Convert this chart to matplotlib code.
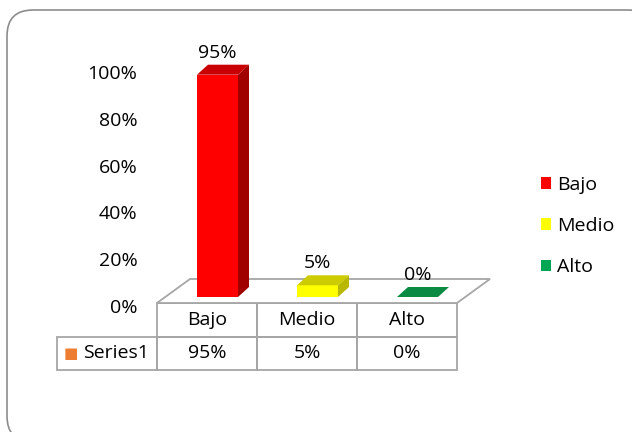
import matplotlib
matplotlib.use("Agg")
import numpy as np
import matplotlib.pyplot as plt
from matplotlib.patches import Polygon, Patch, FancyBboxPatch

plt.rcParams['font.family'] = ['Open Sans', 'DejaVu Sans']
plt.rcParams['font.size'] = 14

# datos
categorias = ['Bajo', 'Medio', 'Alto']
valores = [0.95, 0.05, 0.0]
etiquetas = ['95%', '5%', '0%']
serie = 'Series1'
yticks = [0, 0.2, 0.4, 0.6, 0.8, 1.0]

# colores (frente, lado, tapa)
frente = ['#FF0000', '#FFFF00', '#00A651']
lado = ['#A00000', '#B8B800', '#007A3A']
tapa = ['#C80000', '#CCCC00', '#0B8A43']
gris = '#A6A6A6'

W, H = 632, 432
fig = plt.figure(figsize=(W / 100, H / 100), dpi=100)

# marco redondeado (en pulgadas)
marco = FancyBboxPatch((0.07, -0.10), 6.47, 4.32,
                       boxstyle='round,pad=0,rounding_size=0.26',
                       transform=fig.dpi_scale_trans, fc='white', ec='#8C8C8C', lw=1.2,
                       zorder=-5)
fig.patches.append(marco)

# ejes en pixeles: x 157..500, y 306 (0) .. 40
x0, x1 = 157, 500
yb, yt = 306, 40
ax = fig.add_axes([x0 / W, (H - yb) / H, (x1 - x0) / W, (yb - yt) / H])
ax.set_facecolor('none')
ax.set_xlim(-0.5, -0.5 + (x1 - x0) / 100)
ax.set_ylim(0, (yb - yt) / 234)
for s in ax.spines.values():
    s.set_visible(False)
ax.set_xticks([])
ax.set_yticks(yticks)
ax.set_yticklabels([f'{int(t * 100)}%' for t in yticks])
ax.tick_params(axis='y', length=0, pad=14)

# piso en perspectiva
fy = 3 / 234
fdx, fdy = 0.33, 24 / 234
n = len(categorias)
piso = Polygon([(-0.5, fy), (-0.5 + fdx, fy + fdy), (n - 0.5 + fdx, fy + fdy), (n - 0.5, fy)],
               closed=True, fc='white', ec=gris, lw=1.3, zorder=1)
ax.add_patch(piso)

# barras 3d
x = np.arange(n)
ancho = 0.41
desp = 0.105
base = 9 / 234
ddx, ddy = 0.11, 10 / 234
barras = ax.bar(x + desp, valores, width=ancho, bottom=base, color=frente, zorder=3)
for i, b in enumerate(barras):
    xl = b.get_x()
    xr = xl + b.get_width()
    yt_ = base + valores[i]
    ax.add_patch(Polygon([(xr, base), (xr + ddx, base + ddy), (xr + ddx, yt_ + ddy), (xr, yt_)],
                         closed=True, fc=lado[i], ec='none', zorder=3))
    ax.add_patch(Polygon([(xl, yt_), (xl + ddx, yt_ + ddy), (xr + ddx, yt_ + ddy), (xr, yt_)],
                         closed=True, fc=tapa[i], ec='none', zorder=3))
    ax.text(b.get_x() + ancho / 2, yt_ + ddy + 12 / 234,
            etiquetas[i], ha='center', va='center', zorder=4)

# tabla de datos: fila de encabezado + fila de la serie
celdas = [[''] + categorias, [serie] + etiquetas]
tabla = ax.table(cellText=celdas, cellLoc='center',
                 bbox=[(57 - x0) / (x1 - x0), (yb - 370) / (yb - yt),
                       400 / (x1 - x0), 67 / (yb - yt)])
tabla.auto_set_font_size(False)
for (r, c), cell in tabla.get_celld().items():
    cell.set_edgecolor(gris)
    cell.set_linewidth(1.3)
    cell.set_facecolor('none')
    cell.get_text().set_fontsize(14)
tabla[0, 0].visible_edges = ''
tabla[1, 0].get_text().set_ha('right')
tabla[1, 0].PAD = 0.08
ax.text((71 - x0) / (x1 - x0), (yb - 354) / (yb - yt), '■', color='#ED7D31',
        transform=ax.transAxes, ha='center', va='center', fontsize=11)

# leyenda
handles = [Patch(fc=c, ec='none') for c in frente]
fig.legend(handles, categorias, loc='upper left', bbox_to_anchor=(533 / W, 1 - 168 / H),
           frameon=False, handlelength=0.55, handleheight=0.55, handletextpad=0.3,
           labelspacing=1.2, fontsize=14, borderaxespad=0)

fig.savefig('out.png', dpi=100)
